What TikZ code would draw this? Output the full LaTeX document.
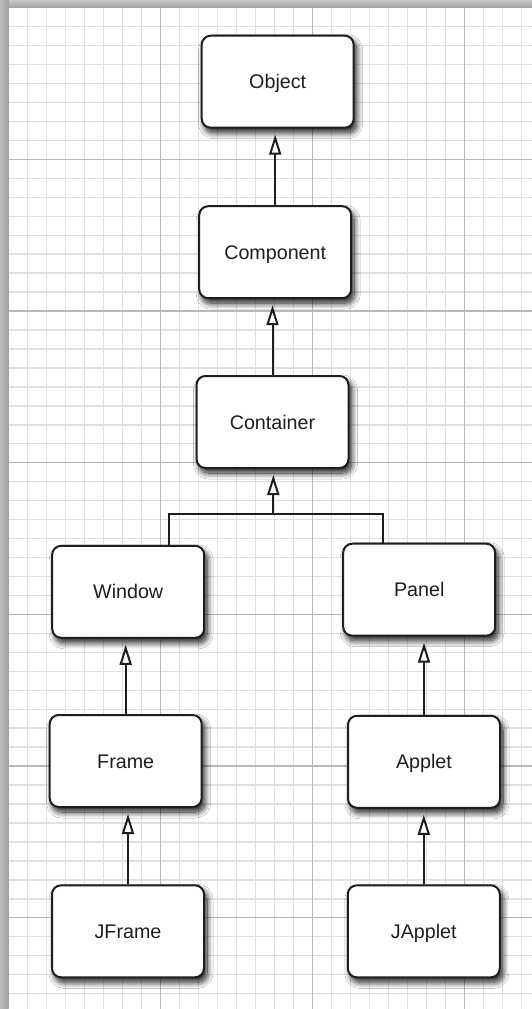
\documentclass[tikz,border=0pt]{standalone}
\usepackage{fontspec}
\setmainfont{Liberation Sans}
\usetikzlibrary{arrows.meta,shadows.blur,calc}
\definecolor{minorgrid}{HTML}{E0E0E0}
\definecolor{majorgrid}{HTML}{B8B8B8}
\definecolor{ink}{HTML}{1E1E1E}
\tikzset{
  classbox/.style={draw=ink, line width=2pt, fill=white, rounded corners=9pt,
    minimum width=152pt, minimum height=92pt, inner sep=0pt,
    text height=14.2pt, text depth=0pt, text=ink,
    font=\fontsize{19.7pt}{24pt}\selectfont,
    blur shadow={shadow xshift=3pt, shadow yshift=-5pt, shadow blur radius=6pt,
      shadow blur steps=14, shadow opacity=90}},
  conn/.style={draw=ink, line width=2pt},
  inh/.style={conn, shorten >=6pt, -{Triangle[length=20pt,width=12pt,fill=white]}},
  minorline/.style={draw=minorgrid, line width=1.4pt},
  majorline/.style={draw=majorgrid, line width=1.4pt},
}
\begin{document}
\begin{tikzpicture}[x=1pt,y=-1pt]
\useasboundingbox (0,0) rectangle (532,1009);
\fill[white] (0,0) rectangle (532,1009);
% grid
\foreach \k in {0,...,27} {
  \pgfmathsetmacro\xx{8.5+19*\k}
  \draw[minorline] (\xx,7.7) -- (\xx,1009);
}
\foreach \k in {0,...,52} {
  \pgfmathsetmacro\yy{7.7+18.96*\k}
  \draw[minorline] (8.5,\yy) -- (532,\yy);
}
\foreach \k in {8,16,24} {
  \pgfmathsetmacro\xx{8.5+19*\k}
  \draw[majorline] (\xx,7.7) -- (\xx,1009);
}
\foreach \k in {8,16,24,32,40,48} {
  \pgfmathsetmacro\yy{7.7+18.96*\k}
  \draw[majorline] (8.5,\yy) -- (532,\yy);
}
% paper edge shadows
\shade[top color=gray!45, bottom color=gray!72] (0,0) rectangle (532,7.7);
\shade[left color=gray!50, right color=gray!75] (0,0) rectangle (8.5,1009);

% class boxes
\node[classbox] (obj) at (277.7,81.7) {Object};
\node[classbox] (comp) at (275.2,252.2) {Component};
\node[classbox] (cont) at (272.5,422) {Container};
\node[classbox] (win) at (128.2,591.8) {Window};
\node[classbox] (pan) at (419.2,589.7) {Panel};
\node[classbox] (frm) at (125.7,761) {Frame};
\node[classbox] (app) at (424,761.8) {Applet};
\node[classbox] (jfrm) at (128,931.3) {JFrame};
\node[classbox] (japp) at (423.8,931.3) {JApplet};

% connectors
\draw[inh] (comp.north) -- (comp.north |- obj.south);
\draw[inh] (cont.north) -- (cont.north |- comp.south);
\coordinate (junction) at (273.3,514);
\draw[conn] ([xshift=41pt]win.north) |- (junction) -| ([xshift=-36pt]pan.north);
\draw[inh] (junction) -- (junction |- cont.south);
\draw[inh] (frm.north) -- (frm.north |- win.south);
\draw[inh] (jfrm.north) -- (jfrm.north |- frm.south);
\draw[inh] (app.north) -- (app.north |- pan.south);
\draw[inh] (japp.north) -- (japp.north |- app.south);
\end{tikzpicture}
\end{document}
